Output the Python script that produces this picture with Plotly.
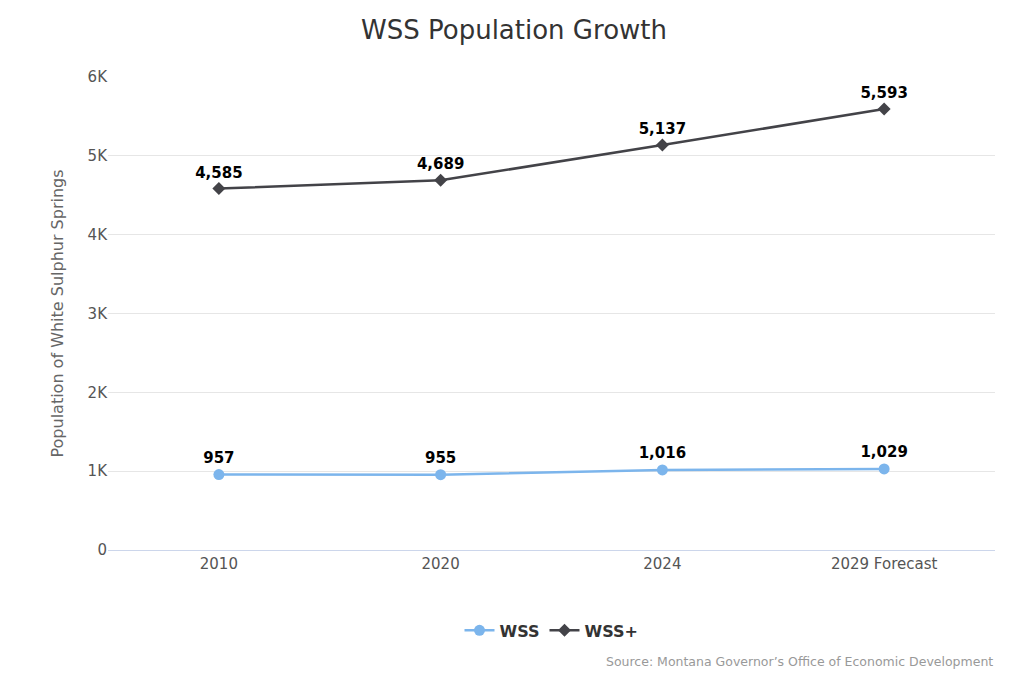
import plotly.graph_objects as go

categories = ["2010", "2020", "2024", "2029 Forecast"]
wss = [957, 955, 1016, 1029]
wss_plus = [4585, 4689, 5137, 5593]
y_ticks = [0, 1000, 2000, 3000, 4000, 5000, 6000]
y_tick_labels = ["0", "1K", "2K", "3K", "4K", "5K", "6K"]

font = "DejaVu Sans"
fig = go.Figure()
for name, vals, color, sym, size in [("WSS", wss, "#7cb5ec", "circle", 11),
                                     ("WSS+", wss_plus, "#434348", "diamond", 10)]:
    fig.add_trace(go.Scatter(
        x=categories, y=vals, name=name, mode="lines+markers+text",
        line=dict(color=color, width=2.5),
        marker=dict(symbol=sym, size=size, color=color),
        text=[f"{v:,}" for v in vals], textposition="top center",
        textfont=dict(family=font, size=15, color="black", weight="bold"),
    ))

fig.update_layout(
    width=1012, height=675, plot_bgcolor="white", paper_bgcolor="white",
    margin=dict(l=100, r=25, t=69, b=133),
    title=dict(text="WSS Population Growth", x=0.5, y=0.967, xanchor="center", yanchor="middle",
               font=dict(family=font, size=26, color="#333333")),
    font=dict(family=font, color="#666666"),
    xaxis=dict(type="category", range=[-0.5, 3.5], showgrid=False, automargin=False,
               showline=True, linecolor="#ccd6eb", ticks="",
               tickfont=dict(size=15, color="#555555")),
    yaxis=dict(range=[0, 6000], tickvals=y_ticks, ticktext=y_tick_labels, automargin=False,
               gridcolor="#e6e6e6", zeroline=False,
               tickfont=dict(size=15, color="#555555"),
               title=dict(text="Population of White Sulphur Springs",
                          font=dict(size=16, color="#666666"), standoff=20)),
    legend=dict(orientation="h", x=0.5, xanchor="center", y=-0.17, yanchor="middle",
                font=dict(size=16, color="#333333", weight="bold")),
    annotations=[dict(text="Source: Montana Governor\u2019s Office of Economic Development",
                      xref="paper", yref="paper", x=1, y=-0.235, xanchor="right",
                      yanchor="middle", showarrow=False,
                      font=dict(size=12.5, color="#999999"))],
)
fig.write_html("out.html")
